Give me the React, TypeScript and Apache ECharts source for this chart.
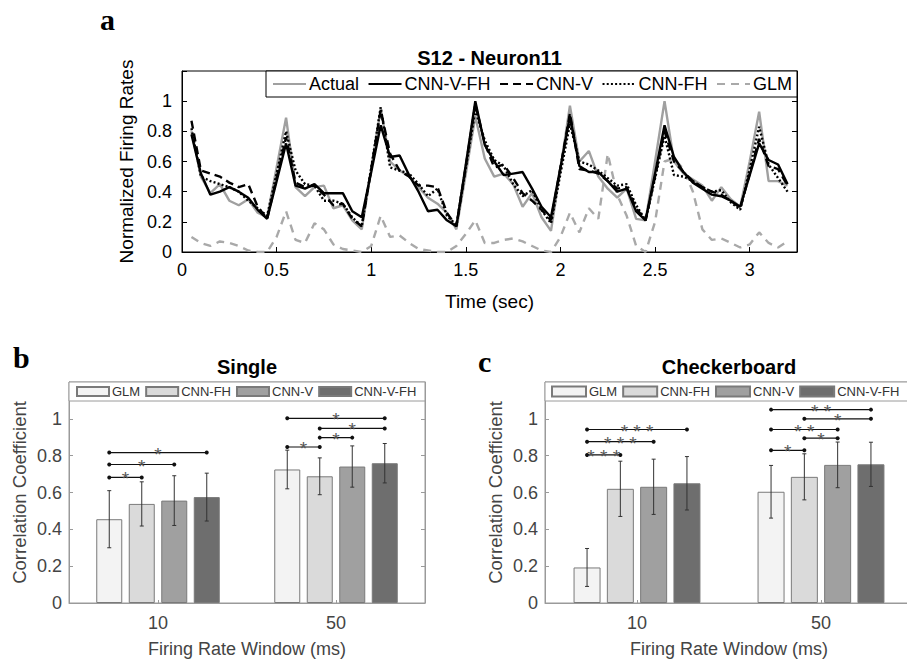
import React, { useEffect, useRef } from 'react';
import * as echarts from 'echarts';

const W = 907;
const H = 659;
const FONT = 'Liberation Sans';
const SERIF = 'Liberation Serif';

// ---------------- Panel a data ----------------
const TIMES = [
  0.05, 0.1, 0.15, 0.2, 0.25, 0.3, 0.35, 0.4, 0.45, 0.5,
  0.55, 0.6, 0.65, 0.7, 0.75, 0.8, 0.85, 0.9, 0.95, 1.0,
  1.05, 1.1, 1.15, 1.2, 1.25, 1.3, 1.35, 1.4, 1.45, 1.5,
  1.55, 1.6, 1.65, 1.7, 1.75, 1.8, 1.85, 1.9, 1.95, 2.0,
  2.05, 2.1, 2.15, 2.2, 2.25, 2.3, 2.35, 2.4, 2.45, 2.5,
  2.55, 2.6, 2.65, 2.7, 2.75, 2.8, 2.85, 2.9, 2.95, 3.0,
  3.05, 3.1, 3.15, 3.2,
];
const ACTUAL = [
  0.80, 0.50, 0.39, 0.45, 0.34, 0.31, 0.35, 0.26, 0.23, 0.56,
  0.89, 0.43, 0.37, 0.43, 0.44, 0.29, 0.31, 0.21, 0.15, 0.55,
  0.95, 0.60, 0.54, 0.50, 0.43, 0.36, 0.32, 0.26, 0.15, 0.52,
  0.90, 0.62, 0.50, 0.52, 0.45, 0.30, 0.39, 0.23, 0.14, 0.55,
  0.97, 0.60, 0.67, 0.50, 0.42, 0.36, 0.42, 0.22, 0.21, 0.60,
  1.00, 0.60, 0.52, 0.48, 0.44, 0.34, 0.43, 0.35, 0.30, 0.60,
  0.93, 0.47, 0.47, 0.44,
];
const CNN_V_FH = [
  0.78, 0.52, 0.38, 0.40, 0.43, 0.40, 0.36, 0.28, 0.22, 0.47,
  0.72, 0.44, 0.42, 0.45, 0.39, 0.39, 0.39, 0.27, 0.23, 0.53,
  0.84, 0.63, 0.64, 0.51, 0.40, 0.27, 0.28, 0.21, 0.17, 0.58,
  1.00, 0.71, 0.60, 0.51, 0.52, 0.53, 0.42, 0.30, 0.23, 0.56,
  0.90, 0.57, 0.53, 0.53, 0.47, 0.40, 0.42, 0.27, 0.21, 0.52,
  0.84, 0.63, 0.53, 0.46, 0.42, 0.38, 0.37, 0.34, 0.30, 0.51,
  0.72, 0.61, 0.58, 0.45,
];
const CNN_V = [
  0.87, 0.54, 0.52, 0.50, 0.46, 0.43, 0.45, 0.30, 0.22, 0.49,
  0.76, 0.46, 0.43, 0.44, 0.38, 0.31, 0.32, 0.22, 0.17, 0.55,
  0.94, 0.65, 0.54, 0.50, 0.44, 0.44, 0.43, 0.26, 0.17, 0.57,
  0.98, 0.72, 0.56, 0.58, 0.49, 0.39, 0.34, 0.28, 0.21, 0.56,
  0.92, 0.55, 0.54, 0.52, 0.47, 0.42, 0.43, 0.29, 0.21, 0.50,
  0.80, 0.60, 0.53, 0.47, 0.43, 0.40, 0.38, 0.34, 0.29, 0.52,
  0.75, 0.57, 0.55, 0.44,
];
const CNN_FH = [
  0.82, 0.50, 0.47, 0.45, 0.43, 0.40, 0.34, 0.29, 0.24, 0.52,
  0.80, 0.54, 0.45, 0.44, 0.34, 0.34, 0.32, 0.23, 0.17, 0.56,
  0.96, 0.56, 0.54, 0.52, 0.45, 0.37, 0.42, 0.24, 0.18, 0.56,
  0.94, 0.74, 0.61, 0.57, 0.45, 0.37, 0.41, 0.28, 0.19, 0.52,
  0.85, 0.60, 0.58, 0.54, 0.49, 0.44, 0.45, 0.31, 0.21, 0.49,
  0.77, 0.51, 0.50, 0.47, 0.43, 0.40, 0.41, 0.33, 0.28, 0.55,
  0.83, 0.58, 0.49, 0.40,
];
const GLM = [
  0.10, 0.06, 0.04, 0.07, 0.06, 0.04, 0.01, 0.00, 0.00, 0.10,
  0.27, 0.08, 0.06, 0.19, 0.15, 0.05, 0.02, 0.01, 0.00, 0.04,
  0.24, 0.10, 0.11, 0.06, 0.02, 0.01, 0.00, 0.00, 0.04, 0.12,
  0.21, 0.06, 0.06, 0.08, 0.09, 0.07, 0.04, 0.01, 0.00, 0.10,
  0.26, 0.13, 0.29, 0.22, 0.65, 0.38, 0.24, 0.04, 0.00, 0.20,
  0.60, 0.62, 0.55, 0.40, 0.15, 0.08, 0.09, 0.06, 0.03, 0.05,
  0.13, 0.06, 0.03, 0.07,
];
const LEGEND_A = ['Actual', 'CNN-V-FH', 'CNN-V', 'CNN-FH', 'GLM'];

// ---------------- Panels b / c data ----------------
const WINDOWS = ['10', '50'];
const MODELS = ['GLM', 'CNN-FH', 'CNN-V', 'CNN-V-FH'];

const B_GLM = [0.455, 0.725];
const B_FH = [0.538, 0.688];
const B_V = [0.556, 0.741];
const B_VFH = [0.575, 0.759];
const B_GLM_ERR = [0.155, 0.105];
const B_FH_ERR = [0.12, 0.10];
const B_V_ERR = [0.135, 0.112];
const B_VFH_ERR = [0.13, 0.107];
// [window index, model a, model b, height]
const B_BRACKETS = [
  [0, 0, 1, 0.682], [0, 0, 2, 0.752], [0, 0, 3, 0.817],
  [1, 0, 1, 0.847], [1, 1, 2, 0.898], [1, 1, 3, 0.948], [1, 0, 3, 1.003],
];
const B_STARS = ['*', '*', '*', '*', '*', '*', '*'];

const C_GLM = [0.193, 0.604];
const C_FH = [0.62, 0.685];
const C_V = [0.631, 0.75];
const C_VFH = [0.65, 0.753];
const C_GLM_ERR = [0.103, 0.143];
const C_FH_ERR = [0.15, 0.125];
const C_V_ERR = [0.15, 0.124];
const C_VFH_ERR = [0.145, 0.12];
const C_BRACKETS = [
  [0, 0, 1, 0.804], [0, 0, 2, 0.876], [0, 0, 3, 0.942],
  [1, 0, 1, 0.829], [1, 1, 2, 0.895], [1, 0, 2, 0.942], [1, 1, 3, 1.0], [1, 0, 3, 1.05],
];
const C_STARS = ['* * *', '* * *', '* * *', '*', '*', '* *', '*', '* *'];

const BAR_COLORS = ['#f3f3f3', '#dadada', '#a0a0a0', '#6e6e6e'];

function panelLetter(letter: string, x: number, baseline: number) {
  const size = 30;
  return {
    type: 'text',
    x,
    y: baseline - 0.34 * size,
    z: 20,
    style: {
      text: letter,
      fontFamily: SERIF,
      fontWeight: 'bold',
      fontSize: size,
      fill: '#000',
      align: 'left',
      verticalAlign: 'middle',
    },
  };
}

function optionA(): any {
  const mk = (name: string, arr: number[], color: string, type: any, z: number) => ({
    name,
    type: 'line',
    data: TIMES.map((t, i) => [t, arr[i]]),
    symbol: 'none',
    z,
    lineStyle: { color, width: 2.4, type },
    itemStyle: { color },
  });
  const isHalf = (v: number) => Math.abs(v * 2 - Math.round(v * 2)) < 1e-6;
  return {
    animation: false,
    textStyle: { fontFamily: FONT },
    title: {
      text: 'S12 - Neuron11',
      left: 489.5,
      top: 48,
      textAlign: 'center',
      padding: 0,
      textStyle: { fontSize: 20, fontWeight: 'bold', color: '#000', fontFamily: FONT },
    },
    legend: {
      data: LEGEND_A,
      left: 266,
      top: 71,
      padding: [4, 5, 4, 6],
      itemWidth: 33,
      itemHeight: 18,
      itemGap: 8.5,
      borderColor: '#000',
      borderWidth: 1,
      backgroundColor: '#fff',
      z: 10,
      itemStyle: { opacity: 0 },
      textStyle: { fontSize: 18, color: '#000', fontFamily: FONT, padding: [0, 0, 0, -2] },
    },
    graphic: [panelLetter('a', 100, 30)],
    grid: {
      left: 182, right: W - 797, top: 71, bottom: H - 252,
      show: true, borderColor: '#000', borderWidth: 1,
    },
    xAxis: {
      type: 'value', min: 0, max: 3.25, interval: 0.5,
      axisLine: { show: true, lineStyle: { color: '#000', width: 1 } },
      axisTick: { show: true, inside: true, length: 5, lineStyle: { color: '#000' } },
      axisLabel: {
        fontSize: 18, color: '#000', margin: 9, fontFamily: FONT,
        formatter: (v: number) => (isHalf(v) && v <= 3.001 ? String(v) : ''),
      },
      splitLine: { show: false },
      name: 'Time (sec)', nameLocation: 'middle', nameGap: 40,
      nameTextStyle: { fontSize: 19, color: '#000', fontFamily: FONT },
    },
    yAxis: [
      {
        type: 'value', min: 0, max: 1.2, interval: 0.2,
        axisLine: { show: true, lineStyle: { color: '#000', width: 1 } },
        axisTick: { show: true, inside: true, length: 5, lineStyle: { color: '#000' } },
        axisLabel: {
          fontSize: 18, color: '#000', margin: 10, fontFamily: FONT,
          formatter: (v: number) => (v > 1.05 ? '' : String(+v.toFixed(1))),
        },
        splitLine: { show: false },
        name: 'Normalized Firing Rates', nameLocation: 'middle', nameGap: 46, nameRotate: 90,
        nameTextStyle: { fontSize: 19, color: '#000', fontFamily: FONT },
      },
      {
        type: 'value', min: 0, max: 1.2, interval: 0.2, position: 'right',
        axisLine: { show: true, lineStyle: { color: '#000', width: 1 } },
        axisTick: { show: true, inside: true, length: 5, lineStyle: { color: '#000' } },
        axisLabel: { show: false },
        splitLine: { show: false },
      },
    ],
    series: [
      mk('GLM', GLM, '#a9a9a9', [8, 6], 1),
      mk('Actual', ACTUAL, '#a0a0a0', 'solid', 2),
      mk('CNN-FH', CNN_FH, '#000', [2, 2.2], 3),
      mk('CNN-V', CNN_V, '#000', [8, 5], 4),
      mk('CNN-V-FH', CNN_V_FH, '#000', 'solid', 5),
    ],
  };
}

function optionBar(cfg: {
  left: number; right: number; width: number; title: string;
  means: number[][]; errs: number[][]; brackets: number[][]; stars: string[];
  barW: number; gap: number; legendLeft: number; iconW: number; iconH: number; legendGap: number;
  letter: string; letterX: number; letterBase: number;
}): any {
  const top = 382;
  const bottom = 605;
  const step = cfg.barW + cfg.gap;
  const axisGray = '#9a9a9a';
  const textGray = '#444';
  const bars = MODELS.map((m, j) => ({
    name: m,
    type: 'bar',
    data: cfg.means[j],
    barWidth: cfg.barW,
    barGap: `${(cfg.gap / cfg.barW) * 100}%`,
    itemStyle: { color: BAR_COLORS[j], borderColor: '#7a7a7a', borderWidth: 1 },
    z: 2,
  }));
  const errs = MODELS.map((m, j) => ({
    type: 'custom',
    z: 4,
    itemStyle: { color: '#333' },
    data: cfg.means[j].map((v, i) => [i, v, cfg.errs[j][i]]),
    renderItem: (params: any, api: any) => {
      const cat = api.value(0);
      const mv = api.value(1);
      const e = api.value(2);
      const hi = api.coord([cat, mv + e]);
      const lo = api.coord([cat, mv - e]);
      const x = hi[0] + (j - 1.5) * step;
      const st = { stroke: '#333', lineWidth: 1 };
      return {
        type: 'group',
        children: [
          { type: 'line', shape: { x1: x, y1: hi[1], x2: x, y2: lo[1] }, style: st },
          { type: 'line', shape: { x1: x - 2, y1: hi[1], x2: x + 2, y2: hi[1] }, style: st },
          { type: 'line', shape: { x1: x - 2, y1: lo[1], x2: x + 2, y2: lo[1] }, style: st },
        ],
      };
    },
  }));
  const bracketSeries = {
    type: 'custom',
    z: 5,
    itemStyle: { color: '#555' },
    data: cfg.brackets,
    renderItem: (params: any, api: any) => {
      const cat = api.value(0);
      const a = api.value(1);
      const b = api.value(2);
      const yv = api.value(3);
      const p = api.coord([cat, yv]);
      const x1 = p[0] + (a - 1.5) * step;
      const x2 = p[0] + (b - 1.5) * step;
      const y = p[1];
      return {
        type: 'group',
        children: [
          { type: 'line', shape: { x1, y1: y, x2, y2: y }, style: { stroke: '#111', lineWidth: 1.2 } },
          { type: 'circle', shape: { cx: x1, cy: y, r: 2 }, style: { fill: '#111' } },
          { type: 'circle', shape: { cx: x2, cy: y, r: 2 }, style: { fill: '#111' } },
          {
            type: 'text', x: (x1 + x2) / 2, y: y + 1.5,
            style: {
              text: cfg.stars[params.dataIndex], fill: '#555',
              fontSize: 19, lineHeight: 9, fontFamily: FONT,
              align: 'center', verticalAlign: 'middle',
            },
          },
        ],
      };
    },
  };
  const plotRight = cfg.width - cfg.right;
  const yBase = {
    type: 'value', min: 0, max: 1.2, interval: 0.2,
    axisLine: { show: true, lineStyle: { color: axisGray, width: 1 } },
    axisTick: { show: true, inside: true, length: 4, lineStyle: { color: axisGray } },
    splitLine: { show: false },
  };
  return {
    animation: false,
    textStyle: { fontFamily: FONT },
    title: {
      text: cfg.title,
      left: (cfg.left + plotRight) / 2,
      top: 357,
      textAlign: 'center',
      padding: 0,
      textStyle: { fontSize: 20, fontWeight: 'bold', color: '#000', fontFamily: FONT },
    },
    legend: {
      data: MODELS,
      left: cfg.legendLeft,
      top: 385,
      width: 600,
      padding: 0,
      icon: 'rect',
      itemWidth: cfg.iconW,
      itemHeight: cfg.iconH,
      itemGap: cfg.legendGap,
      z: 12,
      textStyle: { fontSize: 13, color: '#333', fontFamily: FONT, padding: [0, 0, 0, -2] },
    },
    graphic: [
      {
        type: 'rect', z: 11,
        shape: { x: cfg.left, y: top, width: plotRight - cfg.left, height: 19 },
        style: { fill: '#fff', stroke: axisGray, lineWidth: 1 },
      },
      panelLetter(cfg.letter, cfg.letterX, cfg.letterBase),
    ],
    grid: {
      left: cfg.left, right: cfg.right, top, bottom: H - bottom,
      show: true, borderColor: axisGray, borderWidth: 1,
    },
    xAxis: {
      type: 'category', data: WINDOWS,
      axisLine: { show: true, lineStyle: { color: axisGray, width: 1 } },
      axisTick: { show: true, inside: true, alignWithLabel: true, length: 3, lineStyle: { color: axisGray } },
      axisLabel: { fontSize: 18, color: textGray, margin: 11, fontFamily: FONT },
      name: 'Firing Rate Window (ms)', nameLocation: 'middle', nameGap: 37,
      nameTextStyle: { fontSize: 18, color: textGray, fontFamily: FONT },
    },
    yAxis: [
      {
        ...yBase,
        axisLabel: {
          fontSize: 18, color: textGray, margin: 7, fontFamily: FONT,
          formatter: (v: number) => (v > 1.05 ? '' : String(+v.toFixed(1))),
        },
        name: 'Correlation Coefficient', nameLocation: 'middle', nameGap: 40, nameRotate: 90,
        nameTextStyle: { fontSize: 18.5, color: textGray, fontFamily: FONT },
      },
      { ...yBase, position: 'right', axisLabel: { show: false } },
    ],
    series: [...bars, ...errs, bracketSeries],
  };
}

export default function App() {
  const refA = useRef<HTMLDivElement>(null);
  const refB = useRef<HTMLDivElement>(null);
  const refC = useRef<HTMLDivElement>(null);

  useEffect(() => {
    const a = echarts.init(refA.current!, null, { renderer: 'svg' });
    const b = echarts.init(refB.current!, null, { renderer: 'svg' });
    const c = echarts.init(refC.current!, null, { renderer: 'svg' });
    a.setOption(optionA());
    b.setOption(
      optionBar({
        left: 69, right: W - 425, width: W, title: 'Single',
        means: [B_GLM, B_FH, B_V, B_VFH],
        errs: [B_GLM_ERR, B_FH_ERR, B_V_ERR, B_VFH_ERR],
        brackets: B_BRACKETS, stars: B_STARS,
        barW: 26, gap: 6.5, legendLeft: 76, iconW: 32, iconH: 9, legendGap: 5,
        letter: 'b', letterX: 13, letterBase: 368,
      })
    );
    c.setOption(
      optionBar({
        left: 545, right: 920 - 913, width: 920, title: 'Checkerboard',
        means: [C_GLM, C_FH, C_V, C_VFH],
        errs: [C_GLM_ERR, C_FH_ERR, C_V_ERR, C_VFH_ERR],
        brackets: C_BRACKETS, stars: C_STARS,
        barW: 27, gap: 6.3, legendLeft: 551, iconW: 34, iconH: 10, legendGap: 5,
        letter: 'c', letterX: 478, letterBase: 372,
      })
    );
    return () => {
      a.dispose();
      b.dispose();
      c.dispose();
    };
  }, []);

  return (
    <div style={{ position: 'absolute', left: 0, top: 0, width: W, height: H, overflow: 'hidden', background: '#fff' }}>
      <div ref={refA} style={{ position: 'absolute', left: 0, top: 0, width: W, height: H }} />
      <div ref={refB} style={{ position: 'absolute', left: 0, top: 0, width: W, height: H }} />
      <div ref={refC} style={{ position: 'absolute', left: 0, top: 0, width: 920, height: H }} />
    </div>
  );
}
